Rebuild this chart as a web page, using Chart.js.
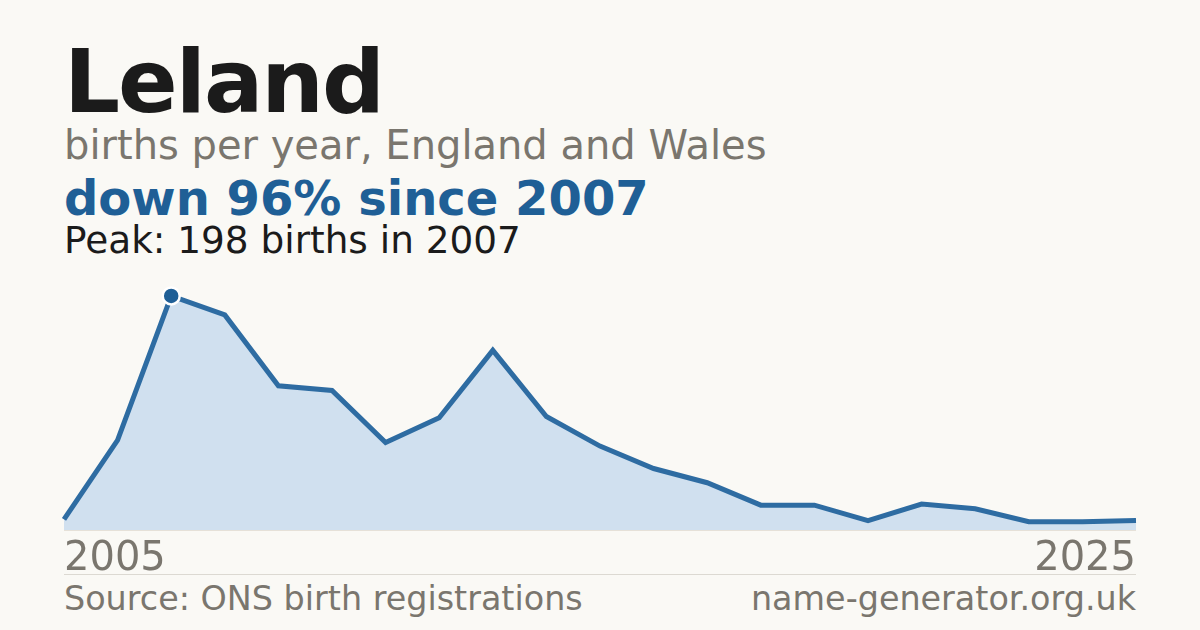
<!DOCTYPE html>
<html>
<head>
<meta charset="utf-8">
<script src="https://cdn.jsdelivr.net/npm/chart.js@4/dist/chart.umd.min.js"></script>
<style>
  html, body { margin:0; padding:0; }
  body { width:1200px; height:630px; background:#faf9f5; position:relative; overflow:hidden; font-family:"DejaVu Sans", sans-serif; }
  .t { position:absolute; white-space:nowrap; }
  #title { left:64px; top:38px; font-size:88px; line-height:88px; font-weight:bold; color:#1b1b1b; letter-spacing:-2px; }
  #sub { left:64px; top:124.7px; font-size:40px; line-height:40px; color:#7a766e; }
  #trend { left:64px; top:173.7px; font-size:48px; line-height:48px; font-weight:bold; color:#1f5f96; }
  #peak { left:64px; top:222px; font-size:37.4px; line-height:37.4px; color:#1b1b1b; }
  #x0 { left:64px; top:536.2px; font-size:40px; line-height:40px; color:#7a766e; }
  #x1 { right:64px; top:536.2px; font-size:40px; line-height:40px; color:#7a766e; }
  #src { left:64px; top:581.8px; font-size:33.4px; line-height:33.4px; color:#7a766e; }
  #site { right:64px; top:581.8px; font-size:33.4px; line-height:33.4px; color:#7a766e; }
  #base { position:absolute; left:64px; width:1072px; top:530px; height:1px; background:#e6e1d8; }
  #rule { position:absolute; left:64px; width:1072px; top:574px; height:1px; background:#dcd9d2; }
  #wrap { position:absolute; left:54px; top:270px; width:1092px; height:270px; }
</style>
</head>
<body>
<div id="base"></div>
<div id="wrap"><canvas id="c"></canvas></div>
<div class="t" id="title">Leland</div>
<div class="t" id="sub">births per year, England and Wales</div>
<div class="t" id="trend">down 96% since 2007</div>
<div class="t" id="peak">Peak: 198 births in 2007</div>
<div class="t" id="x0">2005</div>
<div class="t" id="x1">2025</div>
<div id="rule"></div>
<div class="t" id="src">Source: ONS birth registrations</div>
<div class="t" id="site">name-generator.org.uk</div>
<script>
const years = [2005,2006,2007,2008,2009,2010,2011,2012,2013,2014,2015,2016,2017,2018,2019,2020,2021,2022,2023,2024,2025];
const births = [9,76,198,182,122,118,74,95,152,96,71,52,40,21,21,8,22,18,7,7,8];

const peakIdx = births.indexOf(Math.max(...births));
const radii = births.map((v,i) => i === peakIdx ? 8.5 : 0);

new Chart(document.getElementById('c'), {
  type: 'line',
  data: {
    labels: years.map(String),
    datasets: [{
      data: births,
      borderColor: '#2e6ca2',
      borderWidth: 5,
      backgroundColor: '#d0e0ef',
      fill: 'origin',
      tension: 0,
      pointRadius: radii,
      pointHoverRadius: radii,
      pointBackgroundColor: '#1f5f96',
      pointBorderColor: '#ffffff',
      pointBorderWidth: 2.5,
      clip: false
    }]
  },
  options: {
    responsive: true,
    maintainAspectRatio: false,
    animation: false,
    events: [],
    layout: { padding: { left:10, right:10, top:10, bottom:10 } },
    plugins: { legend: { display:false }, tooltip: { enabled:false } },
    scales: {
      x: { display:false, offset:false },
      y: { display:false, min:0, max:211.5 }
    }
  }
});
</script>
</body>
</html>
